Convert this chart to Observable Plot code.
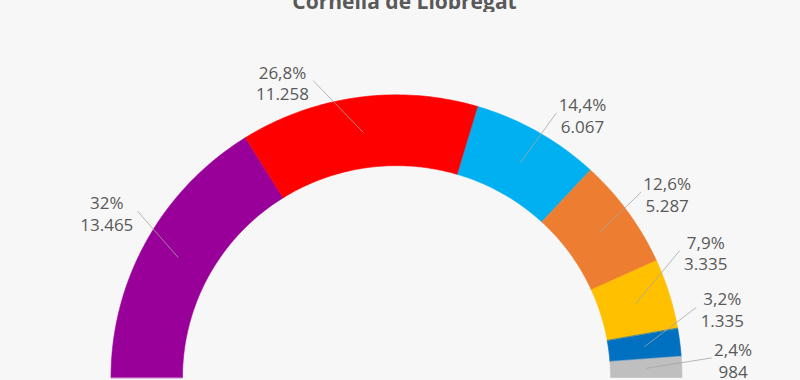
<!DOCTYPE html>
<html><head><meta charset="utf-8">
<script src="https://cdn.jsdelivr.net/npm/d3@7"></script>
<script src="https://cdn.jsdelivr.net/npm/@observablehq/plot@0.6"></script>
<style>
html,body{margin:0;padding:0;background:#f7f7f7;width:800px;height:380px;overflow:hidden;}
#title{position:relative;height:12px;overflow:hidden;}
#title span{position:absolute;left:4.5px;width:800px;top:-13px;text-align:center;font-family:"Open Sans";font-weight:bold;font-size:21px;line-height:28px;color:#595959;white-space:nowrap;}
</style></head><body>
<div id="title"><span>Cornellà de Llobregat</span></div>
<div id="chart"></div>
<script>
// ---- data ----
const shares = [32, 26.8, 14.4, 12.6, 7.9, 3.2, 2.4];
const votes = [13465, 11258, 6067, 5287, 3335, 1335, 984];
const colors = ["#990099", "#ff0000", "#00b0f0", "#ed7d31", "#ffc000", "#0070c0", "#bfbfbf"];

// ---- layout (label placement relative to each slice's middle) ----
const labelTurn = [-0.8, 13.3, -5.3, -1.4, 5.0, 4.8, 0.9];   // degrees
const labelReach = [334, 319, 324, 328, 334, 333, 337];      // px from centre
const R = 285.5, r0 = 214, ringMid = (R + r0) / 2;

const loc = d3.formatLocale({decimal: ",", thousands: ".", grouping: [3], currency: ["", "€"]});
const fmtShare = v => loc.format("")(v) + "%";
const fmtVotes = loc.format(",");

const total = d3.sum(votes);
let acc = 0;
const slices = votes.map((v, i) => {
  const a0 = Math.PI * (1 - acc / total);
  acc += v;
  const a1 = Math.PI * (1 - acc / total);
  return {i, a0, a1, am: (a0 + a1) / 2, color: colors[i]};
});

// ring polygons sampled along arcs
const ring = [];
for (const s of slices) {
  const n = Math.max(2, Math.ceil((s.a0 - s.a1) * 180 / Math.PI));
  const angs = d3.range(n + 1).map(k => s.a0 + (s.a1 - s.a0) * k / n);
  for (const a of angs) ring.push({slice: s.i, color: s.color, x: R * Math.cos(a), y: R * Math.sin(a)});
  for (const a of angs.slice().reverse()) ring.push({slice: s.i, color: s.color, x: r0 * Math.cos(a), y: r0 * Math.sin(a)});
}

const labels = slices.map(s => {
  const t1 = fmtShare(shares[s.i]), t2 = fmtVotes(votes[s.i]);
  const la = s.am + labelTurn[s.i] * Math.PI / 180;
  const lx = labelReach[s.i] * Math.cos(la), ly = labelReach[s.i] * Math.sin(la);
  const half = Math.max(t1.length, t2.length) * 4.6 + 3;
  const side = Math.cos(la) < 0 ? 1 : -1;
  return {
    text: t1 + "\n" + t2, lx, ly,
    x1: ringMid * Math.cos(s.am), y1: ringMid * Math.sin(s.am),
    x2: lx + side * half, y2: ly + 2
  };
});

const chart = Plot.plot({
  width: 800, height: 368,
  margin: 0,
  x: {domain: [-396, 404], axis: null},
  y: {domain: [-3 / 0.99, 365 / 0.99], axis: null},
  color: {type: "identity"},
  style: {background: "#f7f7f7", fontFamily: "Open Sans"},
  marks: [
    Plot.line(ring, {x: "x", y: "y", z: "slice", fill: "color", stroke: "color", strokeWidth: 0.6, curve: "linear-closed"}),
    Plot.link(labels, {x1: "x1", y1: "y1", x2: "x2", y2: "y2", stroke: "#a6a6a6", strokeWidth: 0.8}),
    Plot.text(labels, {x: "lx", y: "ly", text: "text", fill: "#595959", fontSize: 17, lineHeight: 1.28, textAnchor: "middle"})
  ]
});
document.getElementById("chart").appendChild(chart);
</script>
</body></html>
